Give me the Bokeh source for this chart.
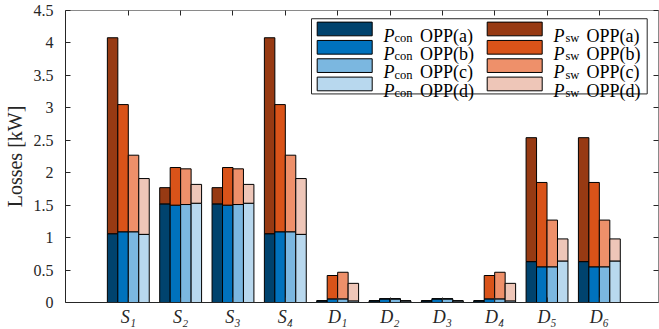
import numpy as np
from bokeh.plotting import figure
from bokeh.models import LinearAxis, FixedTicker, Label, Range1d, ColumnDataSource
from bokeh.embed import file_html
from bokeh.resources import INLINE

# ---------------- data ----------------
cat_labels = ["S\u2081", "S\u2082", "S\u2083", "S\u2084",
              "D\u2081", "D\u2082", "D\u2083", "D\u2084", "D\u2085", "D\u2086"]
opp_labels = ["OPP(a)", "OPP(b)", "OPP(c)", "OPP(d)"]

p_con_a = [1.06, 1.52, 1.52, 1.06, 0.026, 0.026, 0.026, 0.026, 0.63, 0.63]
p_con_b = [1.09, 1.50, 1.50, 1.09, 0.056, 0.056, 0.056, 0.056, 0.55, 0.55]
p_con_c = [1.09, 1.51, 1.51, 1.09, 0.056, 0.056, 0.056, 0.056, 0.55, 0.55]
p_con_d = [1.05, 1.53, 1.53, 1.05, 0.025, 0.025, 0.025, 0.025, 0.64, 0.64]

p_sw_a = [3.02, 0.25, 0.25, 3.02, 0.0, 0.0, 0.0, 0.0, 1.91, 1.91]
p_sw_b = [1.96, 0.58, 0.58, 1.96, 0.36, 0.0, 0.0, 0.36, 1.30, 1.30]
p_sw_c = [1.18, 0.55, 0.55, 1.18, 0.41, 0.0, 0.0, 0.41, 0.72, 0.72]
p_sw_d = [0.86, 0.29, 0.29, 0.86, 0.27, 0.0, 0.0, 0.27, 0.34, 0.34]

y_ticks = [0, 0.5, 1, 1.5, 2, 2.5, 3, 3.5, 4, 4.5]
y_tick_labels = ["0", "0.5", "1", "1.5", "2", "2.5", "3", "3.5", "4", "4.5"]

# ---------------- style ----------------
PCON_COLORS = ["#00436e", "#0072bd", "#7bb7e0", "#b8d8ee"]
PSW_COLORS = ["#973a13", "#d95319", "#ee906a", "#eec6b8"]
FONT = "Liberation Serif"
X0, X1 = -0.2, 11.13
Y0, Y1 = 0.0, 4.5
OFFSETS = [-0.3, -0.1, 0.1, 0.3]
BAR_W = 0.2

# frame position in pixels (used only for legend layout)
FL, FR, FT, FB = 65.0, 658.0, 10.0, 304.0
UPX = (X1 - X0) / (FR - FL)


def dx(px):
    return X0 + (px - FL) * UPX


def dy(py):
    return Y1 - (py - FT) * (Y1 - Y0) / (FB - FT)


p = figure(width=659, height=329, x_range=Range1d(X0, X1), y_range=Range1d(Y0, Y1),
           output_backend="svg", toolbar_location=None,
           min_border_left=65, min_border_right=1, min_border_top=10, min_border_bottom=25,
           x_axis_type=None, y_axis_type=None)
p.background_fill_color = "white"
p.border_fill_color = "white"
p.outline_line_color = None

xs = np.arange(1, len(cat_labels) + 1)
pcon = [p_con_a, p_con_b, p_con_c, p_con_d]
psw = [p_sw_a, p_sw_b, p_sw_c, p_sw_d]

for i in range(4):
    con = np.array(pcon[i])
    sw = np.array(psw[i])
    src = ColumnDataSource(dict(x=xs + OFFSETS[i], con=con, tot=con + sw, zero=np.zeros_like(con)))
    p.vbar(x="x", width=BAR_W, bottom="zero", top="con", source=src,
           fill_color=PCON_COLORS[i], line_color="black", line_width=1)
    p.vbar(x="x", width=BAR_W, bottom="con", top="tot", source=src,
           fill_color=PSW_COLORS[i], line_color="black", line_width=1)


def style_axis(ax, line_color):
    ax.axis_line_color = line_color
    ax.axis_line_width = 1
    ax.major_tick_in = 5
    ax.major_tick_out = 0
    ax.major_tick_line_color = "#262626"
    ax.minor_tick_line_color = None


def hide_labels(ax, ticks):
    ax.major_label_overrides = {t: "" for t in ticks}
    ax.major_label_text_font_size = "1px"
    ax.major_label_standoff = 0


bottom = LinearAxis(ticker=FixedTicker(ticks=list(xs)))
style_axis(bottom, "#262626")
bottom.major_label_overrides = {int(x): l for x, l in zip(xs, cat_labels)}
bottom.major_label_text_font = FONT
bottom.major_label_text_font_style = "italic"
bottom.major_label_text_font_size = "18px"
bottom.major_label_text_color = "#262626"
bottom.major_label_standoff = 4
p.add_layout(bottom, "below")

left = LinearAxis(ticker=FixedTicker(ticks=y_ticks))
style_axis(left, "#262626")
left.major_label_overrides = {t: l for t, l in zip(y_ticks, y_tick_labels)}
left.major_label_text_font = FONT
left.major_label_text_font_size = "16px"
left.major_label_text_color = "#262626"
left.major_label_standoff = 12
left.axis_label = "Losses [kW]"
left.axis_label_text_font = FONT
left.axis_label_text_font_style = "normal"
left.axis_label_text_font_size = "20px"
left.axis_label_text_color = "#262626"
left.axis_label_standoff = 5
p.add_layout(left, "left")

top = LinearAxis(ticker=FixedTicker(ticks=list(xs)))
style_axis(top, "#8a8a8a")
hide_labels(top, list(xs))
p.add_layout(top, "above")

right = LinearAxis(ticker=FixedTicker(ticks=y_ticks))
style_axis(right, "#8a8a8a")
hide_labels(right, y_ticks)
p.add_layout(right, "right")

p.xgrid.ticker = FixedTicker(ticks=list(xs))
p.ygrid.ticker = FixedTicker(ticks=y_ticks)
p.xgrid.grid_line_color = "#e6e6e6"
p.ygrid.grid_line_color = "#e6e6e6"

# legend box
p.quad(left=[dx(311)], right=[dx(646.7)], top=[dy(18.3)], bottom=[dy(94)],
       fill_color="white", line_color="#262626", line_width=1)

col_sw_left = [316.7, 486.7]
col_p = [383.0, 553.0]
col_sub = [394.0, 565.0]
col_opp = [419.5, 586.0]
subs = ["con", "sw"]
colors = [PCON_COLORS, PSW_COLORS]
for c in range(2):
    for r in range(4):
        top_px = 21.7 + r * 18.45
        bot_px = top_px + 13.8
        p.quad(left=[dx(col_sw_left[c])], right=[dx(col_sw_left[c] + 55)],
               top=[dy(top_px)], bottom=[dy(bot_px)],
               fill_color=colors[c][r], line_color="black", line_width=1)
        base = bot_px - 0.3
        p.add_layout(Label(x=dx(col_p[c]), y=dy(base), text="P", text_font=FONT,
                           text_font_style="italic", text_font_size="18px", text_color="black",
                           text_align="left", text_baseline="alphabetic"))
        p.add_layout(Label(x=dx(col_sub[c]), y=dy(base + 2.5), text=subs[c], text_font=FONT,
                           text_font_size="12.5px", text_color="black",
                           text_align="left", text_baseline="alphabetic"))
        p.add_layout(Label(x=dx(col_opp[c]), y=dy(base), text=opp_labels[r], text_font=FONT,
                           text_font_size="18px", text_color="black",
                           text_align="left", text_baseline="alphabetic"))

open("out.html", "w").write(file_html(p, INLINE))
